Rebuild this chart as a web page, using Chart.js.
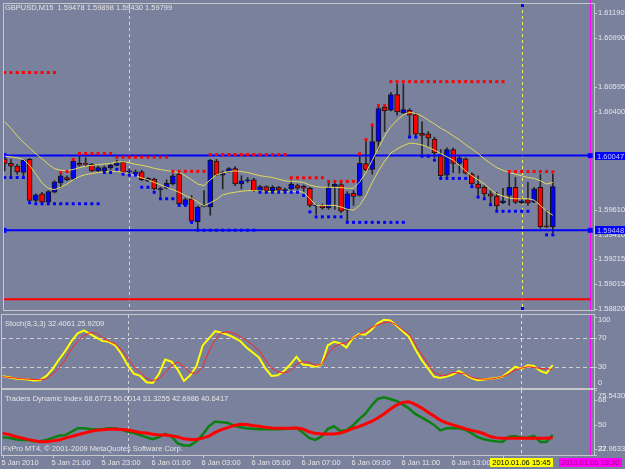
<!DOCTYPE html>
<html><head><meta charset="utf-8">
<script src="https://cdn.jsdelivr.net/npm/chart.js@4.4.1/dist/chart.umd.min.js"></script>
<style>
html,body{margin:0;padding:0;background:#7a819d;overflow:hidden}
#wrap{position:relative;width:625px;height:469px;background:#7a819d}
canvas{position:absolute;left:0;display:block}
</style></head><body>
<div id="wrap">
<canvas id="c1" width="625" height="314" style="top:0;width:625px;height:314px"></canvas>
<canvas id="c2" width="625" height="75" style="top:314px;width:625px;height:75px"></canvas>
<canvas id="c3" width="625" height="80" style="top:389px;width:625px;height:80px"></canvas>
</div>
<script>
// ---------------- DATA ----------------
const symbol = 'GBPUSD', timeframe = 'M15';
const open = [1.60021,1.59984,1.59963,1.59911,1.60016,1.59688,1.59740,1.59674,1.59753,1.59827,
1.59871,1.59858,1.59984,1.59982,1.59977,1.59924,1.59924,1.59948,1.59969,1.59995,
1.59916,1.59900,1.59916,1.59843,1.59858,1.59774,1.59785,1.59819,1.59898,1.59653,
1.59701,1.59517,1.59640,1.59635,1.60003,1.59890,1.59916,1.59942,1.59819,1.59845,
1.59853,1.59761,1.59798,1.59766,1.59793,1.59761,1.59780,1.59806,1.59800,1.59785,
1.59643,1.59648,1.59627,1.59798,1.59814,1.59609,1.59745,1.59727,1.59982,1.59937,
1.60160,1.60436,1.60410,1.60536,1.60389,1.60410,1.60376,1.60226,1.60221,1.60179,
1.60055,1.59890,1.60095,1.59984,1.60021,1.59898,1.59819,1.59793,1.59740,1.59722,
1.59669,1.59727,1.59793,1.59669,1.59693,1.59674,1.59793,1.59485,1.59478];
const high = [1.60042,1.60016,1.59977,1.60016,1.60024,1.59740,1.59753,1.59766,1.59845,1.59898,
1.59885,1.60016,1.60055,1.60029,1.59984,1.59963,1.59963,1.59984,1.60011,1.60003,
1.59942,1.59932,1.59929,1.59871,1.59866,1.59793,1.59853,1.59898,1.59916,1.59706,
1.59727,1.59643,1.59766,1.60016,1.60016,1.59924,1.59950,1.59958,1.59885,1.59871,
1.59864,1.59806,1.59806,1.59806,1.59800,1.59787,1.59845,1.59819,1.59811,1.59793,
1.59653,1.59659,1.59837,1.59845,1.59845,1.59758,1.59766,1.60055,1.60160,1.60286,
1.60436,1.60442,1.60554,1.60620,1.60620,1.60423,1.60389,1.60318,1.60239,1.60195,
1.60095,1.60108,1.60108,1.60042,1.60029,1.59911,1.59885,1.59806,1.59766,1.59753,
1.59785,1.59911,1.59871,1.59706,1.59832,1.59793,1.59898,1.59609,1.59898];
const low = [1.59924,1.59885,1.59898,1.59885,1.59669,1.59674,1.59669,1.59669,1.59748,1.59793,
1.59845,1.59853,1.59963,1.59963,1.59919,1.59916,1.59916,1.59937,1.59963,1.59898,
1.59898,1.59885,1.59845,1.59837,1.59772,1.59714,1.59780,1.59811,1.59653,1.59648,
1.59517,1.59451,1.59635,1.59569,1.59885,1.59780,1.59911,1.59806,1.59780,1.59832,
1.59758,1.59753,1.59758,1.59758,1.59764,1.59753,1.59774,1.59774,1.59753,1.59635,
1.59575,1.59617,1.59617,1.59617,1.59590,1.59512,1.59648,1.59722,1.59924,1.59898,
1.60095,1.60239,1.60405,1.60371,1.60384,1.60200,1.60205,1.60042,1.60121,1.60029,
1.59871,1.59871,1.59911,1.59906,1.59898,1.59806,1.59727,1.59714,1.59648,1.59609,
1.59661,1.59648,1.59661,1.59661,1.59648,1.59669,1.59464,1.59470,1.59430];
const close = [1.59984,1.59963,1.59916,1.60011,1.59688,1.59732,1.59674,1.59758,1.59837,1.59885,
1.59853,1.60003,1.59971,1.59977,1.59924,1.59950,1.59950,1.59969,1.59990,1.59911,
1.59924,1.59916,1.59853,1.59864,1.59780,1.59780,1.59824,1.59885,1.59661,1.59695,
1.59522,1.59635,1.59648,1.60011,1.59890,1.59911,1.59942,1.59819,1.59845,1.59853,
1.59766,1.59798,1.59766,1.59793,1.59772,1.59774,1.59816,1.59785,1.59785,1.59648,
1.59648,1.59627,1.59793,1.59816,1.59601,1.59740,1.59719,1.59984,1.59932,1.60160,
1.60423,1.60405,1.60536,1.60397,1.60415,1.60371,1.60218,1.60208,1.60187,1.60068,
1.59885,1.60095,1.59984,1.60029,1.59906,1.59819,1.59785,1.59740,1.59722,1.59643,
1.59685,1.59793,1.59674,1.59685,1.59667,1.59780,1.59477,1.59477,1.59799];
const maUpper = [1.60318,1.60266,1.60205,1.60153,1.60108,1.60061,1.60021,1.59977,1.59942,1.59929,
1.59927,1.59935,1.59950,1.59961,1.59969,1.59974,1.59979,1.59984,1.59995,1.59998,
1.59990,1.59977,1.59969,1.59958,1.59945,1.59935,1.59927,1.59919,1.59911,1.59885,
1.59853,1.59819,1.59806,1.59853,1.59892,1.59908,1.59919,1.59924,1.59919,1.59911,
1.59898,1.59885,1.59879,1.59871,1.59858,1.59845,1.59840,1.59837,1.59832,1.59811,
1.59798,1.59793,1.59793,1.59793,1.59790,1.59785,1.59785,1.59837,1.59911,1.60008,
1.60108,1.60205,1.60279,1.60331,1.60373,1.60394,1.60384,1.60363,1.60331,1.60300,
1.60266,1.60239,1.60205,1.60174,1.60134,1.60100,1.60063,1.60021,1.59984,1.59950,
1.59929,1.59911,1.59898,1.59885,1.59871,1.59864,1.59845,1.59819,1.59832];
const maLower = [1.60042,1.60037,1.60029,1.60016,1.59969,1.59898,1.59827,1.59785,1.59774,1.59793,
1.59819,1.59853,1.59879,1.59895,1.59903,1.59911,1.59916,1.59919,1.59921,1.59911,
1.59898,1.59885,1.59869,1.59853,1.59832,1.59814,1.59793,1.59774,1.59753,1.59727,
1.59706,1.59674,1.59643,1.59669,1.59695,1.59732,1.59745,1.59753,1.59761,1.59766,
1.59766,1.59764,1.59761,1.59758,1.59756,1.59756,1.59758,1.59761,1.59753,1.59701,
1.59648,1.59648,1.59648,1.59648,1.59635,1.59617,1.59609,1.59648,1.59727,1.59832,
1.59924,1.60003,1.60068,1.60100,1.60126,1.60147,1.60142,1.60132,1.60113,1.60090,
1.60063,1.60037,1.60011,1.59969,1.59924,1.59885,1.59853,1.59819,1.59774,1.59740,
1.59722,1.59706,1.59701,1.59701,1.59701,1.59690,1.59648,1.59601,1.59569];
const resistDots = [1.60712,1.60712,1.60712,1.60712,1.60712,1.60712,1.60712,1.60712,1.60712,1.59911,
1.59919,1.60016,1.60063,1.60063,1.60063,1.60063,1.60063,1.60063,1.60034,1.60034,
1.60034,1.60034,1.60034,1.60034,1.60034,1.60034,1.60034,1.59921,1.59921,1.59921,
1.59921,1.59921,1.59921,1.60055,1.60055,1.60055,1.60055,1.60055,1.60055,1.60055,
1.60055,1.60055,1.60055,1.60055,1.60055,1.60055,1.59869,1.59869,1.59869,1.59869,
1.59869,1.59869,1.59840,1.59840,1.59840,1.59840,1.59840,1.60061,1.60174,1.60292,
1.60449,1.60449,1.60639,1.60639,1.60639,1.60639,1.60639,1.60639,1.60639,1.60639,
1.60639,1.60639,1.60639,1.60639,1.60639,1.60639,1.60639,1.60639,1.60639,1.60639,
1.60639,1.59919,1.59919,1.59919,1.59919,1.59919,1.59919,1.59919,1.59916];
const supportDots = [1.59871,1.59871,1.59871,1.59871,1.59669,1.59661,1.59661,1.59661,1.59661,1.59661,
1.59661,1.59661,1.59661,1.59661,1.59661,1.59661,1.59911,1.59911,1.59937,1.59898,
1.59890,1.59890,1.59793,1.59793,1.59753,1.59701,1.59701,1.59701,1.59648,1.59648,
1.59512,1.59449,1.59449,1.59449,1.59449,1.59449,1.59449,1.59449,1.59449,1.59449,
1.59449,1.59753,1.59753,1.59753,1.59753,1.59753,1.59753,1.59753,1.59727,1.59596,
1.59556,1.59556,1.59556,1.59556,1.59556,1.59512,1.59512,1.59512,1.59512,1.59512,
1.59512,1.59512,1.59512,1.59512,1.59512,1.60195,1.60195,1.60042,1.60042,1.60011,
1.59864,1.59864,1.59864,1.59864,1.59864,1.59798,1.59714,1.59701,1.59653,1.59601,
1.59601,1.59601,1.59601,1.59601,1.59601,null,null,1.59412,1.59412];
const hLevelsBlue = [1.60047, 1.59448];
const hLevelRed = [1.58897];
const priceRange = [1.58810, 1.61261];
const priceTicks = [1.61190,1.60990,1.60595,1.60400,1.59610,1.59410,1.59215,1.59015,1.58820];

const stochMain = [16.5,15,13.5,12.5,12,10.5,11,17,27,40, 52,66,77,81,76,71,66,65,60,48,
32,20,17,8,7,20,40,37,26,10, 18,31,60,70,80,78,75,71,66,57, 50,43,28,17,18,24,33,44,33,32,
30,33,60,65,63,57,70,76,75,82, 91,96,95,88,80,72,55,40,28,16, 14,16,19,24,19,14,11,12,13,14,
16,23,30,27,32,31,24,21,32.4061];
const stochSignal = [16,15,14,13,12.5,12,11.5,13,20,28, 40,55,66,74,78,77,71,66,62,54,
42,30,22,14,10,13,22,31,37,30, 22,20,30,52,68,78,79,77,72,67, 60,53,40,28,23,21,24,34,37,36,
32,33,48,58,62,64,70,75,80,85, 89,92,93,89,82,76,62,48,35,22, 18,18,22,21,20,15,13,12.5,12.5,14,
16,20,25,28,30,29,27.5,27,25.9209];
const stochLevels = [70, 30];
const stochTicks = [100, 70, 30, 0];
const stochRange = [0, 102.8];

const tdiGreen = [41,40.5,39.5,39,39,38,38,39,40.5,42, 42.5,45,47.5,47.5,47,46.8,47,47.5,47.5,46.5,
45,44,42.5,41,39.5,41,43.5,41.5,36.5,35, 35,38,43,49,52.5,52,51.5,49.5,48.2,47.6,
47.2,46.8,46.8,46.8,46.8,47,47.5,47.8,44.5,40.5, 39,41.5,47,49,45.5,46,49.5,54,58,64,
69,70.2,69,67.5,65,62,58,55.5,53,50, 46,47.5,47.8,47.5,46.5,44,41,39.5,38.5,37.8,
37.7,41.4,41.9,40.5,40.8,42,37.5,37.5,42.6986];
const tdiRed = [43.8,43,41.5,40.5,39.4,38.5,37.7,37.7,38.3,39, 40.3,41.5,42.8,44,45.2,46,46.5,46.8,46.8,46.6,
46.2,45.4,44.5,44,43.2,42.6,42.6,42,41.2,39.8, 39.4,39.4,40.3,41.8,44.5,46.5,48,49.5,50.5,50.3,
49.5,49,48.3,47.8,47.5,47.5,47.5,47.8,47,45, 43.8,43.3,43.3,43.3,44,45.5,47.5,48.7,50.5,52.5,
55,58,61.5,64.5,66.5,67,65,62.5,59.5,56.5, 53.5,51.5,50,48.7,47.2,46,45,43.5,41.5,40.5,
40.2,40.2,40.2,40.2,40.2,40.2,40.2,40.3,40.6417];
const tdiBands = [68.6773, 50.0014, 31.3255];
const tdiTicks = [75.5430, 68, 50, 32, 27.9633];
const tdiTickText = ['75.5430', '68', '50', '32', '27.9633'];

const timeTickBars = [0,8,16,24,32,40,48,56,64,72,80];
const timeTickText = ['5 Jan 2010','5 Jan 21:00','5 Jan 23:00','6 Jan 01:00','6 Jan 03:00','6 Jan 05:00',
  '6 Jan 07:00','6 Jan 09:00','6 Jan 11:00','6 Jan 13:00','6 Jan 15:00'];
const markerBars = {daySep: 20, cursor: 83, end: 94};
const cursorLabel = '2010.01.06 15:45';
const endLabel = '2010.01.06 18:30';
const copyright = 'FxPro MT4, \u00a9 2001-2009 MetaQuotes Software Corp.';

// ---------------- STYLE ----------------
const X_MIN = -0.112, X_MAX = 94.608;
const FONT = '7.5px "Liberation Sans", Arial, sans-serif';
const TXT = '#e6e6e6', FRAME = '#c8c8cc';
const BLUE = '#0000ff', RED = '#ff0000', MA = '#e2da58';

const pts = arr => arr.map((v, i) => ({x: i, y: v}));
const idx = open.map((_, i) => i);
const bodies = idx.map(i => ({x: i, y: [open[i], close[i]]}));
const wicks = idx.map(i => ({x: i, y: [low[i], high[i]]}));
const bodyColors = idx.map(i => close[i] >= open[i] ? BLUE : RED);

function baseOpts(pad, range) {
  return {
    responsive: false, maintainAspectRatio: false, animation: false, events: [],
    layout: {padding: pad},
    plugins: {legend: {display: false}, tooltip: {enabled: false}},
    scales: {
      x: {type: 'linear', min: X_MIN, max: X_MAX, display: false, offset: false},
      y: {type: 'linear', min: range[0], max: range[1], display: false}
    }
  };
}

function frame(chart) {
  const {ctx, chartArea: a} = chart;
  ctx.save();
  ctx.strokeStyle = FRAME; ctx.lineWidth = 1;
  ctx.strokeRect(a.left - 0.5, a.top - 0.5, a.right - a.left + 1, a.bottom - a.top + 1);
  ctx.restore();
}
function vlines(chart, magTop) {
  const {ctx, chartArea: a, scales: {x}} = chart;
  ctx.save();
  ctx.lineWidth = 1;
  const xd = Math.round(x.getPixelForValue(markerBars.daySep)) + 0.5;
  ctx.strokeStyle = '#d4d4d8'; ctx.setLineDash([3, 3]);
  ctx.beginPath(); ctx.moveTo(xd, a.top); ctx.lineTo(xd, a.bottom); ctx.stroke();
  const xc = Math.round(x.getPixelForValue(markerBars.cursor)) + 0.5;
  ctx.strokeStyle = '#f2ee6a';
  ctx.beginPath(); ctx.moveTo(xc, a.top); ctx.lineTo(xc, a.bottom); ctx.stroke();
  ctx.setLineDash([]);
  const xm = Math.round(x.getPixelForValue(markerBars.end)) + 0.5;
  ctx.strokeStyle = '#ff00ff';
  ctx.beginPath(); ctx.moveTo(xm, magTop); ctx.lineTo(xm, a.bottom); ctx.stroke();
  ctx.restore();
}
function axisLabels(chart, vals, texts, clampT, clampB) {
  const {ctx, chartArea: a, scales: {y}} = chart;
  ctx.save();
  ctx.font = FONT; ctx.fillStyle = TXT; ctx.textAlign = 'left'; ctx.textBaseline = 'middle';
  ctx.strokeStyle = FRAME; ctx.lineWidth = 1;
  vals.forEach((v, k) => {
    const py = y.getPixelForValue(v);
    const ly = Math.min(Math.max(py, a.top + clampT), a.bottom - clampB);
    ctx.beginPath(); ctx.moveTo(a.right, Math.round(py) + 0.5); ctx.lineTo(a.right + 3, Math.round(py) + 0.5); ctx.stroke();
    ctx.fillText(texts[k], a.right + 4, ly);
  });
  ctx.restore();
}
function title(chart, text, x, y) {
  const {ctx} = chart;
  ctx.save(); ctx.font = FONT; ctx.fillStyle = TXT; ctx.textAlign = 'left'; ctx.textBaseline = 'middle';
  ctx.fillText(text, x, y); ctx.restore();
}

// ---------------- MAIN PRICE CHART ----------------
const mainPlugin = {
  id: 'mainDeco',
  beforeDatasetsDraw(chart) { vlines(chart, 0); },
  afterDraw(chart) {
    const {ctx, chartArea: a, scales: {x, y}} = chart;
    frame(chart);
    const n = open.length - 1;
    title(chart, `${symbol},${timeframe}  ${open[n].toFixed(5)} ${high[n].toFixed(5)} ${low[n].toFixed(5)} ${close[n].toFixed(5)}`, 5, 8);
    axisLabels(chart, priceTicks, priceTicks.map(v => v.toFixed(5)), -99, -99);
    ctx.save();
    ctx.font = FONT; ctx.textAlign = 'left'; ctx.textBaseline = 'middle';
    hLevelsBlue.forEach(v => {
      const py = Math.round(y.getPixelForValue(v));
      ctx.fillStyle = BLUE; ctx.fillRect(a.right + 1, py - 4, 31, 8);
      ctx.fillStyle = '#c8c8ff'; ctx.fillText(v.toFixed(5), a.right + 3, py + 0.5);
    });
    const xc = Math.round(x.getPixelForValue(markerBars.cursor));
    ctx.fillStyle = BLUE;
    ctx.fillRect(xc - 1, a.top, 3, 3);
    ctx.fillRect(xc - 1, a.bottom - 3, 3, 3);
    ctx.restore();
  }
};
new Chart(document.getElementById('c1'), {
  type: 'bar',
  data: {datasets: [
    {type: 'line', data: pts(resistDots), showLine: false, pointStyle: 'rect', pointRadius: 2.1,
     pointBackgroundColor: RED, pointBorderWidth: 0, order: -4},
    {type: 'line', data: pts(supportDots), showLine: false, pointStyle: 'rect', pointRadius: 2.1,
     pointBackgroundColor: BLUE, pointBorderWidth: 0, order: -4},
    {type: 'line', data: pts(maUpper), borderColor: MA, borderWidth: 1, pointRadius: 0, order: -3},
    {type: 'line', data: pts(maLower), borderColor: MA, borderWidth: 1, pointRadius: 0, order: -3},
    ...hLevelsBlue.map(v => ({type: 'line', data: [{x: X_MIN, y: v}, {x: markerBars.end, y: v}],
      borderColor: BLUE, borderWidth: 2, pointStyle: 'rect', pointRadius: 3.5,
      pointBackgroundColor: BLUE, pointBorderWidth: 0, order: -2})),
    {type: 'line', data: [{x: X_MIN, y: hLevelRed[0]}, {x: markerBars.end, y: hLevelRed[0]}],
      borderColor: RED, borderWidth: 2, pointRadius: 0, order: -2},
    {type: 'bar', data: bodies, backgroundColor: bodyColors, borderColor: '#141414', borderWidth: 1,
      borderSkipped: false, barThickness: 5, grouped: false, minBarLength: 1, order: 0},
    {type: 'bar', data: wicks, backgroundColor: '#262626', borderWidth: 0, barThickness: 1,
      grouped: false, order: 1}
  ]},
  options: baseOpts({left: 2, right: 31, top: 2, bottom: 1}, priceRange),
  plugins: [mainPlugin]
});

// ---------------- STOCHASTIC ----------------
const stochPlugin = {
  id: 'stochDeco',
  beforeDatasetsDraw(chart) {
    vlines(chart, 0);
    const {ctx, chartArea: a, scales: {y}} = chart;
    ctx.save(); ctx.strokeStyle = '#cfcfd4'; ctx.lineWidth = 1; ctx.setLineDash([4, 3]);
    stochLevels.forEach(v => {
      const py = Math.round(y.getPixelForValue(v)) + 0.5;
      ctx.beginPath(); ctx.moveTo(a.left, py); ctx.lineTo(a.right, py); ctx.stroke();
    });
    ctx.restore();
  },
  afterDraw(chart) {
    frame(chart);
    title(chart, `Stoch(8,3,3) ${stochMain[stochMain.length - 1].toFixed(4)} ${stochSignal[stochSignal.length - 1].toFixed(4)}`, 5, 9.5);
    axisLabels(chart, stochTicks, stochTicks.map(String), 5, 5);
  }
};
new Chart(document.getElementById('c2'), {
  type: 'line',
  data: {datasets: [
    {data: pts(stochSignal), borderColor: '#ff2222', borderWidth: 1, pointRadius: 0, order: 0},
    {data: pts(stochMain), borderColor: '#ffff00', borderWidth: 2, pointRadius: 0, order: 1}
  ]},
  options: baseOpts({left: 2, right: 31, top: 1, bottom: 1}, stochRange),
  plugins: [stochPlugin]
});

// ---------------- TRADERS DYNAMIC INDEX ----------------
const tdiPlugin = {
  id: 'tdiDeco',
  beforeDatasetsDraw(chart) { vlines(chart, 0); },
  afterDraw(chart) {
    const {ctx, chartArea: a, scales: {x}} = chart;
    frame(chart);
    title(chart, `Traders Dynamic Index ${tdiBands.map(v => v.toFixed(4)).join(' ')} ${tdiGreen[tdiGreen.length - 1].toFixed(4)} ${tdiRed[tdiRed.length - 1].toFixed(4)}`, 5, 9.5);
    title(chart, copyright, 3, 60);
    axisLabels(chart, tdiTicks, tdiTickText, 6, 6);
    ctx.save();
    ctx.font = FONT; ctx.textBaseline = 'middle'; ctx.textAlign = 'left';
    ctx.strokeStyle = FRAME; ctx.lineWidth = 1; ctx.fillStyle = TXT;
    timeTickBars.forEach((b, k) => {
      const px = Math.round(x.getPixelForValue(b)) + 0.5;
      ctx.beginPath(); ctx.moveTo(px, a.bottom); ctx.lineTo(px, a.bottom + 3); ctx.stroke();
      ctx.fillText(timeTickText[k], px - 2, a.bottom + 7.5);
    });
    const boxes = [[markerBars.cursor, cursorLabel, '#ffff00', '#000000'],
                   [markerBars.end, endLabel, '#ff00ff', '#a4007c']];
    boxes.forEach(([b, txt, bg, fg]) => {
      const cx = x.getPixelForValue(b);
      const w = ctx.measureText(txt).width + 5;
      ctx.fillStyle = bg; ctx.fillRect(Math.round(cx - w / 2), a.bottom + 3, Math.round(w), 9);
      ctx.fillStyle = fg; ctx.textAlign = 'center';
      ctx.fillText(txt, cx, a.bottom + 7.5);
    });
    ctx.restore();
  }
};
new Chart(document.getElementById('c3'), {
  type: 'line',
  data: {datasets: [
    {data: pts(tdiRed), borderColor: '#ff0000', borderWidth: 3, pointRadius: 0, order: 0},
    {data: pts(tdiGreen), borderColor: '#0a8010', borderWidth: 2.5, pointRadius: 0, order: 1}
  ]},
  options: baseOpts({left: 2, right: 31, top: 1, bottom: 14}, [tdiTicks[tdiTicks.length - 1], tdiTicks[0]]),
  plugins: [tdiPlugin]
});
</script>
</body></html>
